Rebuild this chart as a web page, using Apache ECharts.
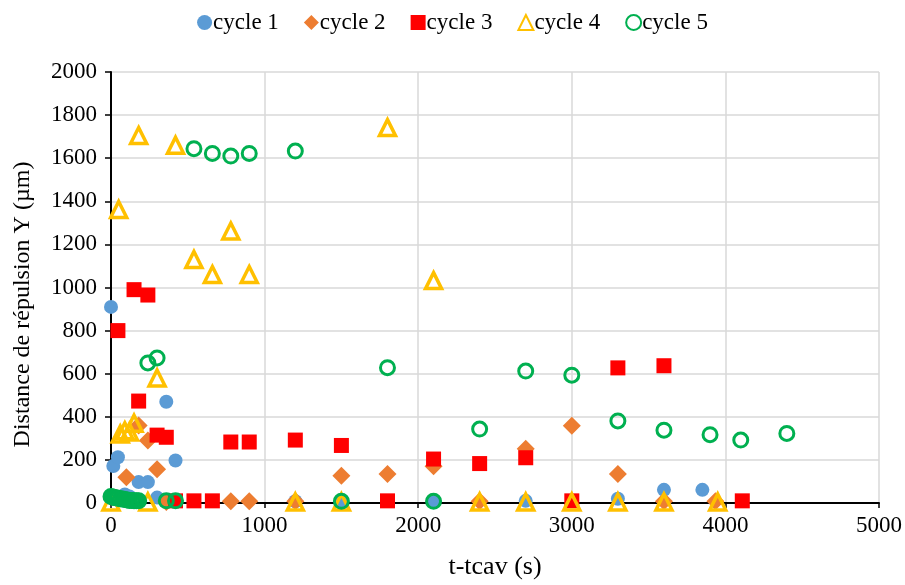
<!DOCTYPE html>
<html><head><meta charset="utf-8">
<script src="https://cdn.jsdelivr.net/npm/echarts@6/dist/echarts.min.js"></script>
<style>html,body{margin:0;padding:0;background:#fff}#c{width:905px;height:585px}</style>
</head><body><div id="c"></div>
<script>
const seriesNames = ['cycle 1','cycle 2','cycle 3','cycle 4','cycle 5'];
const cycle1 = [[0,910],[15,172],[45,212],[90,40],[120,30],[180,97],[240,97],[300,25],[360,470],[420,197],[1200,8],[1500,8],[2100,8],[2700,10],[3300,20],[3600,61],[3850,61]];
const cycle2 = [[100,120],[180,360],[240,290],[300,157],[360,5],[780,8],[900,8],[1200,8],[1500,127],[1800,135],[2100,170],[2400,8],[2700,252],[3000,358],[3300,135],[3600,8],[3935,8]];
const cycle3 = [[45,800],[150,990],[180,473],[240,965],[300,315],[360,305],[420,10],[540,10],[660,10],[780,283],[900,283],[1200,292],[1500,267],[1800,10],[2100,204],[2400,183],[2700,210],[3000,10],[3300,627],[3600,637],[4110,10]];
const cycle4 = [[0,5],[50,1362],[60,320],[90,335],[120,330],[150,370],[180,1705],[240,5],[300,580],[420,1660],[540,1130],[660,1060],[780,1262],[900,1060],[1200,5],[1500,5],[1800,1742],[2100,1032],[2400,5],[2700,5],[3000,5],[3300,5],[3600,5],[3950,5]];
const cycle5 = [[0,30],[10,28],[20,26],[30,24],[45,22],[60,20],[75,18],[90,16],[105,14],[120,12],[135,12],[150,10],[165,10],[180,10],[240,650],[300,673],[360,10],[420,10],[540,1644],[660,1622],[780,1610],[900,1622],[1200,1633],[1500,8],[1800,628],[2100,8],[2400,343],[2700,612],[3000,593],[3300,381],[3600,338],[3900,317],[4100,292],[4400,323]];
const xTicks = [0,1000,2000,3000,4000,5000];
const yTicks = [0,200,400,600,800,1000,1200,1400,1600,1800,2000];

const font = 'Liberation Serif, Times New Roman, serif';
const chart = echarts.init(document.getElementById('c'), null, {renderer:'canvas'});
const mk = (name, data, symbol, size, style) => ({
  name, type:'scatter', data, symbol, symbolSize:size, itemStyle:Object.assign({opacity:1}, style)
});
chart.setOption({
  animation:false,
  textStyle:{fontFamily:font},
  legend:{
    top:6, left:'center', itemGap:25, itemWidth:15, itemHeight:15,
    textStyle:{fontFamily:font, fontSize:23, color:'#000', padding:[0,0,0,-4]},
    data:seriesNames
  },
  grid:{left:111, right:25, top:72, bottom:79, containLabel:false},
  xAxis:{
    type:'value', min:xTicks[0], max:xTicks[xTicks.length-1], interval:1000,
    name:'t-tcav (s)', nameLocation:'middle', nameGap:51,
    nameTextStyle:{fontFamily:font, fontSize:26, color:'#000'},
    axisLine:{onZero:false, lineStyle:{color:'#000', width:2}},
    axisTick:{show:true, length:5, lineStyle:{color:'#000', width:1.5}},
    axisLabel:{fontFamily:font, fontSize:23, color:'#000', margin:11, formatter:v=>String(v)},
    splitLine:{show:true, lineStyle:{color:'#D9D9D9', width:1.5}}
  },
  yAxis:{
    type:'value', min:yTicks[0], max:yTicks[yTicks.length-1], interval:200,
    name:'Distance de répulsion Y (µm)', nameLocation:'middle', nameGap:76,
    nameTextStyle:{fontFamily:font, fontSize:24, color:'#000', padding:[0,34,0,0]},
    axisLine:{show:true, lineStyle:{color:'#000', width:2}},
    axisTick:{show:true, length:6, lineStyle:{color:'#000', width:1.5}},
    axisLabel:{fontFamily:font, fontSize:23, color:'#000', margin:14, formatter:v=>String(v)},
    splitLine:{show:true, lineStyle:{color:'#D9D9D9', width:1.5}}
  },
  series:[
    mk(seriesNames[0], cycle1, 'circle', 14, {color:'#5B9BD5'}),
    mk(seriesNames[1], cycle2, 'diamond', 18, {color:'#ED7D31'}),
    mk(seriesNames[2], cycle3, 'rect', 15, {color:'#FF0000', borderRadius:2}),
    mk(seriesNames[3], cycle4, 'triangle', 16, {color:'rgba(255,255,255,0)', borderColor:'#FFC000', borderWidth:3.5}),
    mk(seriesNames[4], cycle5, 'circle', 14, {color:'rgba(255,255,255,0)', borderColor:'#00B050', borderWidth:3})
  ]
});
</script></body></html>
